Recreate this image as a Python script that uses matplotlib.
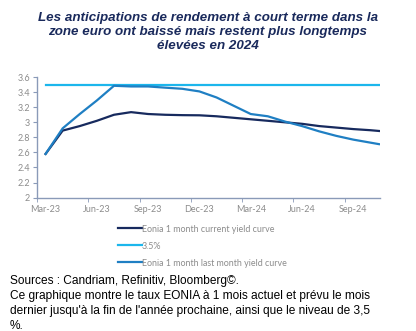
import matplotlib
matplotlib.use("Agg")
import matplotlib.pyplot as plt

# Mois depuis mars 2023 (0 = Mar-23)
mois = [0, 1, 2, 3, 4, 5, 6, 7, 8, 9, 10, 11, 12, 13, 14, 15, 16, 17, 18, 19, 19.5]
courbe_actuelle = [2.58, 2.89, 2.95, 3.02, 3.10, 3.135, 3.11, 3.10, 3.095, 3.093, 3.08,
                   3.06, 3.04, 3.02, 3.00, 2.98, 2.95, 2.93, 2.91, 2.895, 2.885]
courbe_mois_dernier = [2.58, 2.92, 3.11, 3.29, 3.485, 3.476, 3.476, 3.46, 3.445, 3.41, 3.33,
                       3.22, 3.11, 3.08, 3.01, 2.95, 2.88, 2.82, 2.77, 2.73, 2.71]
niveau = 3.5
etiquettes_x = ["Mar-23", "Jun-23", "Sep-23", "Dec-23", "Mar-24", "Jun-24", "Sep-24"]
pos_etiquettes = [0, 3, 6, 9, 12, 15, 18]
ticks_y = [2, 2.2, 2.4, 2.6, 2.8, 3, 3.2, 3.4, 3.6]
labels_y = ["2", "2.2", "2.4", "2.6", "2.8", "3", "3.2", "3.4", "3.6"]

noms = ["Eonia 1 month current yield curve", "3.5%", "Eonia 1 month last month yield curve"]
couleurs = ["#172a5e", "#1cb6ec", "#1f7fc3"]

fig = plt.figure(figsize=(4.16, 3.31), dpi=100)
ax = fig.add_axes([0.089, 0.403, 0.824, 0.364])

l1, = ax.plot(mois, courbe_actuelle, color=couleurs[0], lw=1.6, label=noms[0])
l2, = ax.plot([mois[0], mois[-1]], [niveau, niveau], color=couleurs[1], lw=1.6, label=noms[1])
l3, = ax.plot(mois, courbe_mois_dernier, color=couleurs[2], lw=1.6, label=noms[2])

ax.set_xlim(-0.47, 19.55)
ax.set_ylim(2, 3.6)
ax.set_yticks(ticks_y)
ax.set_yticklabels(labels_y)
ax.set_xticks(pos_etiquettes)
ax.set_xticklabels(etiquettes_x)
ax.set_xticks([p - 0.5 for p in pos_etiquettes], minor=True)

axe_col = "#8a9ab8"
for s in ["top", "right"]:
    ax.spines[s].set_visible(False)
for s in ["left", "bottom"]:
    ax.spines[s].set_color(axe_col)
    ax.spines[s].set_linewidth(1.0)
ax.tick_params(axis="y", length=3, color=axe_col, labelsize=6.5, labelcolor="#8c8c8c",
               labelfontfamily="Lato", pad=2)
ax.tick_params(axis="x", which="major", length=0, labelsize=6.5, labelcolor="#8c8c8c",
               labelfontfamily="Lato", pad=5)
ax.tick_params(axis="x", which="minor", length=3, color=axe_col)

fig.legend(handles=[l1, l2, l3], loc="upper left", bbox_to_anchor=(0.272, 0.335),
           frameon=False, handlelength=2.7, handletextpad=0.05, labelspacing=0.9,
           prop={"family": "Lato", "size": 6.4}, labelcolor="#8c8c8c", borderpad=0)

fig.text(0.5, 0.903,
         "Les anticipations de rendement à court terme dans la\n"
         "zone euro ont baissé mais restent plus longtemps\n"
         "élevées en 2024",
         ha="center", va="center", fontsize=9.6, fontweight="bold", fontstyle="italic",
         color="#1a2a5c", family="Liberation Sans", linespacing=1.25)

fig.text(0.024, 0.083,
         "Sources : Candriam, Refinitiv, Bloomberg©.\n"
         "Ce graphique montre le taux EONIA à 1 mois actuel et prévu le mois\n"
         "dernier jusqu'à la fin de l'année prochaine, ainsi que le niveau de 3,5\n"
         "%.",
         ha="left", va="center", fontsize=8.6, color="black", family="Liberation Sans",
         linespacing=1.31)

fig.savefig("out.png", dpi=100)
